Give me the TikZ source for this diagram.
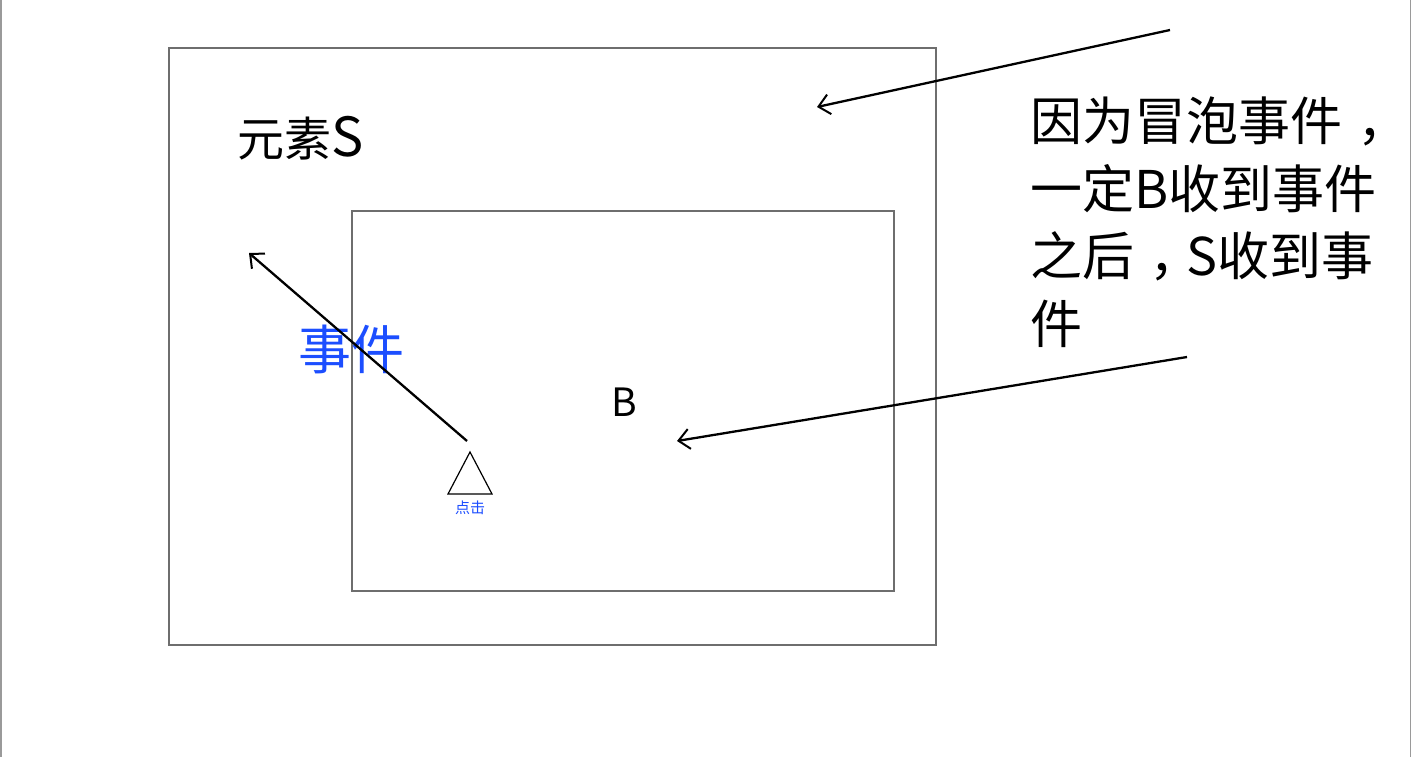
\documentclass[tikz,border=0pt]{standalone}
\usepackage{fontspec}
\setmainfont{Noto Sans CJK SC}
\usetikzlibrary{arrows.meta}
\definecolor{evblue}{RGB}{28,78,255}
\definecolor{boxgray}{RGB}{110,110,110}
\newcommand{\cmmark}{\hspace{0.3em}，\hspace{-0.3em}}
\tikzset{
  box/.style={draw=boxgray, line width=1.2pt},
  ptr/.style={draw=black, line width=2.3pt, -{Straight Barb[length=11pt,width=20pt,line width=2pt]}},
  txt/.style={inner sep=0pt, anchor=west, text=black},
}
\begin{document}
\begin{tikzpicture}[x=1pt,y=-1pt]
\useasboundingbox (0,0) rectangle (1412,757);
\fill[white] (0,0) rectangle (1412,757);
\draw[boxgray!70, line width=1.5pt] (0.75,0) -- (0.75,757);
\draw[boxgray!70, line width=1.5pt] (1410.5,0) -- (1410.5,757);
% boxes
\draw[box] (169,48) rectangle (936,645);
\draw[box] (352,211) rectangle (894,591);
% texts
\node[txt, font=\fontsize{47}{54}\selectfont] (S) at (237,138) {元素\fontsize{54}{60}\selectfont S};
\node[inner sep=0pt, font=\fontsize{39}{44}\selectfont] (B) at (624,402) {B};
\node[txt, text=evblue, font=\fontsize{53}{60}\selectfont] (ev) at (298,349) {事件};
\node[txt, anchor=north west, align=left, font=\fontsize{52}{67.5}\selectfont] (note) at (1030,97)
  {因为冒泡事件\cmmark\\一定B收到事件\\之后\cmmark S收到事\\件};
% triangle
\draw[line width=1.2pt, line join=miter] (470,452) -- (492,494) -- (448,494) -- cycle;
\node[inner sep=0pt, text=evblue, font=\fontsize{15}{17}\selectfont] (click) at (470,508) {点击};
% arrow coordinates
\coordinate (a1s) at (1170,30);
\coordinate (a1e) at (817,107);
\coordinate (a2s) at (1187,357);
\coordinate (a2e) at (677,441);
\coordinate (a3s) at (467,441);
\coordinate (a3e) at (249,253);
\draw[ptr] (a1s) -- (a1e);
\draw[ptr] (a2s) -- (a2e);
\draw[ptr] (a3s) -- (a3e);
\end{tikzpicture}
\end{document}
